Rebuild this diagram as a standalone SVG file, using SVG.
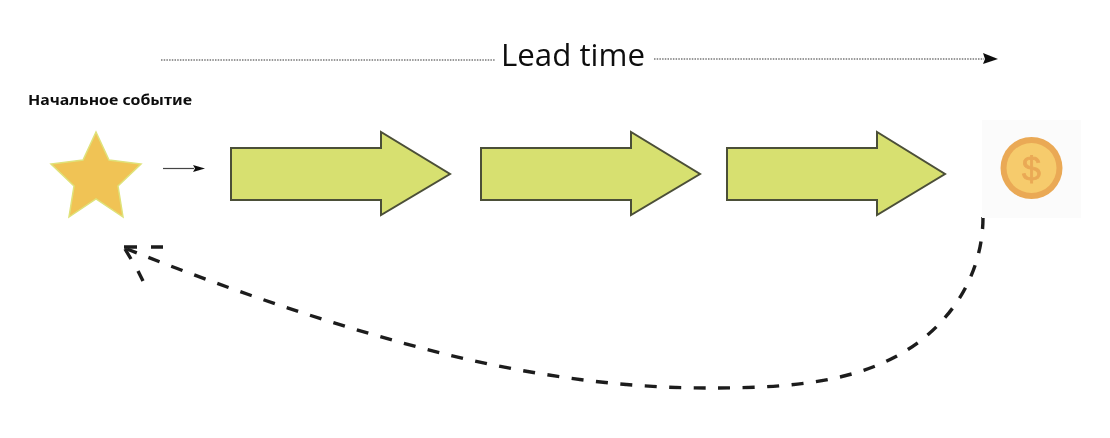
<svg xmlns="http://www.w3.org/2000/svg" width="1110" height="438" viewBox="0 0 1110 438">
<style>
.t{font-family:"Open Sans","Noto Sans","DejaVu Sans",sans-serif;fill:#111}
.block{fill:#d7e070;stroke:#4c4f38;stroke-width:2;stroke-linejoin:miter}
.dot{fill:none;stroke:#777;stroke-width:1.4;stroke-dasharray:1.5 1.2}
.dash{fill:none;stroke:#1c1c1c;stroke-width:3.400}
.main{stroke-dasharray:12 12.500}
</style>
<defs>
<filter id="soft" x="0" y="0" width="1110" height="438" filterUnits="userSpaceOnUse"><feGaussianBlur stdDeviation="0.500"/></filter>
</defs>
<rect width="1110" height="438" fill="#fff"/>
<g filter="url(#soft)">
<g id="connectors">
<path class="dot" d="M161 60H495"/>
<path class="dot" d="M654 59H984"/>
<path d="M983 53L998 59L983 64L985 59Z" fill="#111"/>
<path d="M163 168.500H194" stroke="#444" stroke-width="1.200" fill="none"/>
<path d="M193 165L205 168.500L193 172L195 168.500Z" fill="#111"/>
<path class="dash main" d="M983 217C983 275 950 328 895 357C840 386 770 388 707 388C620 388 530 375 445 354C340 328 230 290 127 249"/>
<path class="dash" d="M137 247H124M163 247H151M125 249L131 259M138 271L143 281"/>
</g>
<g id="start-label"><text x="28" y="105" font-size="13.500" font-weight="700" font-family="'Noto Sans','Open Sans',sans-serif" fill="#111" textLength="164" lengthAdjust="spacingAndGlyphs">Начальное событие</text></g>
<g id="lead-time-label"><text class="t" x="501" y="66" font-size="31" textLength="144" lengthAdjust="spacingAndGlyphs">Lead time</text></g>
<g id="star"><path d="M96 132L109 160L141 164L118 186L123 217L96 199L69 217L74 186L51 164L83 160Z" fill="#f0c355" stroke="#dfe27a" stroke-width="1.500"/></g>
<g id="arrow-1"><path class="block" d="M231 148H381V132L450 174L381 215V200H231Z"/></g>
<g id="arrow-2"><path class="block" d="M481 148H631V132L700 174L631 215V200H481Z"/></g>
<g id="arrow-3"><path class="block" d="M727 148H877V132L945 174L877 215V200H727Z"/></g>
<g id="coin">
<rect x="982" y="120" width="99" height="98" fill="#fbfbfb"/>
<circle cx="1031.500" cy="168" r="31" fill="#eaa955"/>
<circle cx="1031.500" cy="168" r="25" fill="#f6cb6c"/>
<text x="1031.500" y="180" text-anchor="middle" font-size="34" font-family="'Liberation Sans',sans-serif" fill="#eaa955" stroke="#eaa955" stroke-width="0.800">$</text>
</g>
</g>
</svg>
